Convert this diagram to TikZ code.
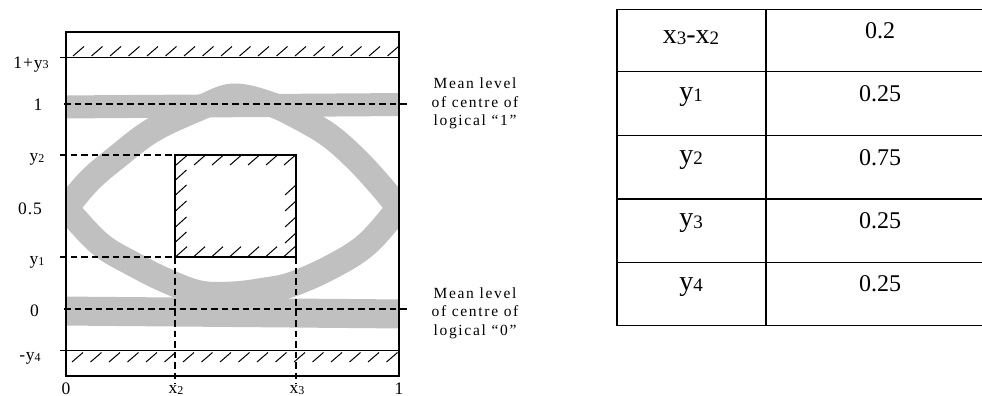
\documentclass[tikz,border=0pt]{standalone}
\usepackage{fontspec}
\setmainfont{Liberation Serif}
\definecolor{bandgray}{RGB}{192,192,192}
\newcommand\lsub[1]{\raisebox{-1pt}{\fontsize{12}{12}\selectfont #1}}
\newcommand\tsub[1]{\raisebox{-1.5pt}{\fontsize{19}{19}\selectfont #1}}
\begin{document}
\begin{tikzpicture}[x=1pt,y=-1pt,
  band/.style={draw=bandgray, line width=25pt, line cap=butt, line join=round},
  dashline/.style={line width=2pt, dash pattern=on 6.5pt off 4pt},
  hatchln/.style={line width=1pt},
  frameln/.style={line width=1.3pt},
  tabln/.style={line width=1.5pt},
  lab/.style={font=\fontsize{17.5}{17.5}\selectfont\addfontfeature{LetterSpace=5}, anchor=base, inner sep=0pt},
  meanlab/.style={font=\fontsize{15.5}{18.5}\selectfont\addfontfeature{LetterSpace=11}, align=center, inner sep=0pt},
  tleft/.style={font=\fontsize{28}{28}\selectfont, anchor=base, inner sep=0pt},
  tright/.style={font=\fontsize{24}{24}\selectfont, anchor=base, inner sep=0pt}]
\useasboundingbox (0,0) rectangle (982,396);

% grey eye bands
\begin{scope}
\clip (66,32) rectangle (399,376);
\draw[band, line width=23pt] (60,107) -- (405,104.5);
\draw[band, line width=29pt] (60,311) -- (405,314);
\draw[band] plot[smooth, tension=0.6] coordinates {(56,220) (66,208) (90,180) (117,157) (153,130) (200,108) (233,96) (270,104) (300,118) (330,136) (357,160) (380,185) (399,208) (409,220)};
\draw[band] plot[smooth, tension=0.6] coordinates {(56,196) (66,208) (100,244) (133,264) (167,281) (200,293) (233,294) (265,290) (293,284) (333,266) (367,244) (399,208) (409,196)};
\end{scope}

% frame
\draw[frameln] (66,32) rectangle (399,376);
\draw[frameln] (60,57.3) -- (399,57.3);
\draw[frameln] (60,350.3) -- (399,350.3);
\foreach \k in {0,...,17} \draw[hatchln] (73+18.5*\k,56) -- (84+18.5*\k,46.5);
\foreach \k in {0,...,17} \draw[hatchln] (72+18.5*\k,362) -- (83+18.5*\k,352.5);

% dashed levels
\draw[dashline] (64,104) -- (407,104);
\draw[dashline] (64,309) -- (407,309);
\draw[dashline] (60,155) -- (175,155);
\draw[dashline] (60,257) -- (175,257);
\draw[dashline] (175,257) -- (175,384);
\draw[dashline] (296,257) -- (296,384);

% inner box
\draw[frameln] (175,155) rectangle (296,257);
\foreach \k in {0,...,6} \draw[hatchln] (176+18*\k,165) -- (187+18*\k,155.5);
\foreach \k in {0,...,6} \draw[hatchln] (176+18*\k,256.5) -- (187+18*\k,246.7);
\foreach \t in {170,185,201,217,232} \draw[hatchln] (175.5,\t+10) -- (186.5,\t);
\foreach \t in {185,201,217,233} \draw[hatchln] (285,\t+10) -- (296,\t);

% axis labels
\node[lab] (l1y3) at (31,68) {1+y\lsub{3}};
\node[lab] (l1) at (38,110) {1};
\node[lab] (ly2) at (37,161.5) {y\lsub{2}};
\node[lab] (l05) at (30,214) {0.5};
\node[lab] (ly1) at (37,264) {y\lsub{1}};
\node[lab] (l0) at (34.5,316.5) {0};
\node[lab] (ly4) at (30,360) {-y\lsub{4}};
\node[lab] (b0) at (66,394) {0};
\node[lab] (bx2) at (176,393) {x\lsub{2}};
\node[lab] (bx3) at (297,393) {x\lsub{3}};
\node[lab] (b1) at (399,394) {1};

\node[meanlab] (m1) at (475,103.5) {Mean level\\of centre of\\logical “1”};
\node[meanlab] (m0) at (475,313) {Mean level\\of centre of\\logical “0”};

% table
\foreach \r in {9.3,71.7,135.7,199,262.3,325.7} \draw[tabln] (617,\r) -- (983,\r);
\draw[tabln] (617,9.3) -- (617,325.7);
\draw[tabln, line width=1.8pt] (765.7,9.3) -- (765.7,325.7);
\node[tleft] (t1) at (691,43.3) {x\tsub{3}-x\tsub{2}};
\node[tleft] (t2) at (691,100) {y\tsub{1}};
\node[tleft] (t3) at (691,163.3) {y\tsub{2}};
\node[tleft] (t4) at (691,226.6) {y\tsub{3}};
\node[tleft] (t5) at (691,290) {y\tsub{4}};
\node[tright] (v1) at (880,38.3) {0.2};
\node[tright] (v2) at (880,101.7) {0.25};
\node[tright] (v3) at (880,165) {0.75};
\node[tright] (v4) at (880,228.3) {0.25};
\node[tright] (v5) at (880,291.7) {0.25};
\end{tikzpicture}
\end{document}
